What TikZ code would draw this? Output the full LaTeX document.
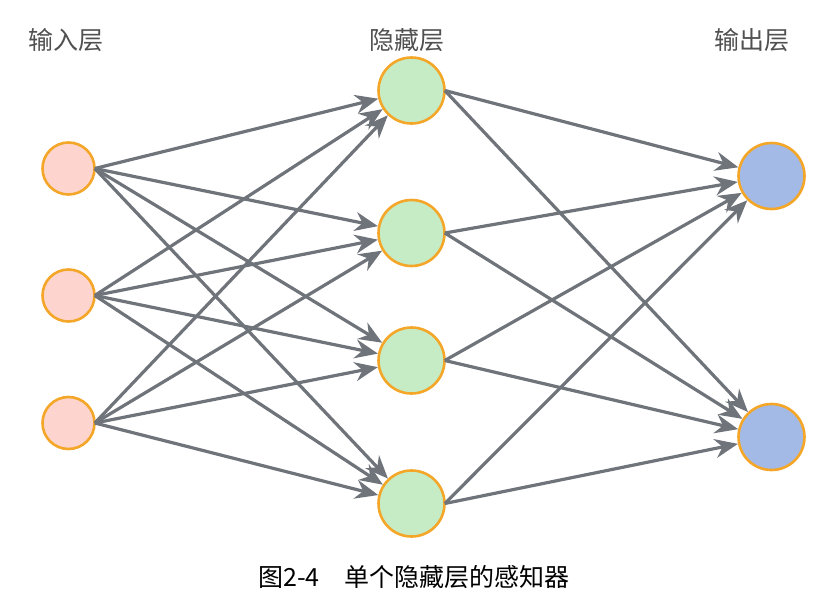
\documentclass[tikz,border=0pt]{standalone}
\usepackage{fontspec}
\newfontfamily\cjk{Noto Sans CJK SC}
\usetikzlibrary{arrows.meta}
\definecolor{inF}{HTML}{FDD5CE}
\definecolor{hidF}{HTML}{C6ECC6}
\definecolor{outF}{HTML}{A3BAE7}
\definecolor{ring}{HTML}{F4A629}
\definecolor{edge}{HTML}{6F737A}
\definecolor{lbl}{HTML}{505050}
\tikzset{
  innode/.style={circle,draw=ring,line width=2.6pt,fill=inF,minimum size=52pt,inner sep=0pt},
  hidnode/.style={circle,draw=ring,line width=2.6pt,fill=hidF,minimum size=66pt,inner sep=0pt},
  outnode/.style={circle,draw=ring,line width=2.6pt,fill=outF,minimum size=66pt,inner sep=0pt},
  conn/.style={draw=edge,line width=3.2pt,-{Stealth[length=23pt,width=19pt]}},
  layerlbl/.style={font=\cjk\fontsize{25}{25}\selectfont,text=lbl},
}
\begin{document}
\begin{tikzpicture}[x=1pt,y=-1pt]
\useasboundingbox (0,0) rectangle (838,608);
\node[innode] (i1) at (68.5,168.5) {};
\node[innode] (i2) at (68.5,295.5) {};
\node[innode] (i3) at (68.5,423) {};
\node[hidnode] (h1) at (411.5,90.5) {};
\node[hidnode] (h2) at (411.5,233) {};
\node[hidnode] (h3) at (411.5,360.5) {};
\node[hidnode] (h4) at (411.5,503.5) {};
\node[outnode] (o1) at (771.5,176) {};
\node[outnode] (o2) at (771.5,437) {};
\foreach \i in {1,2,3}{
  \foreach \h in {1,2,3,4}{
    \path[conn] ([xshift=-1pt]i\i.east) -- (h\h);
  }
}
\foreach \h in {1,2,3,4}{
  \foreach \o in {1,2}{
    \path[conn] ([xshift=-1pt]h\h.east) -- (o\o);
  }
}
\node[layerlbl] (l1) at (66,40) {输入层};
\node[layerlbl] (l2) at (407,40) {隐藏层};
\node[layerlbl] (l3) at (752,40) {输出层};
\node[font=\cjk\fontsize{25}{25}\selectfont] (cap) at (414,577) {图2-4\hspace{1em}单个隐藏层的感知器};
\end{tikzpicture}
\end{document}
